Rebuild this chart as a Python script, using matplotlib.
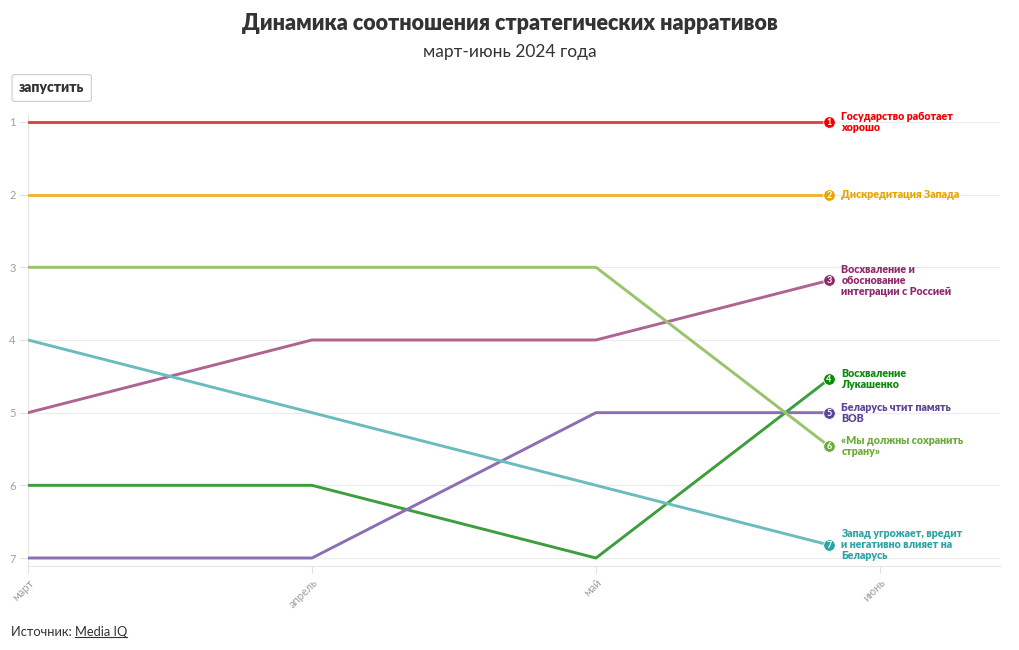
import numpy as np
import matplotlib
matplotlib.use('Agg')
import matplotlib.pyplot as plt
from matplotlib.lines import Line2D

plt.rcParams['font.family'] = ['Lato', 'DejaVu Sans']

months = ['март', 'апрель', 'май', 'июнь']

names = ['Государство работает\nхорошо',
         'Дискредитация Запада',
         'Восхваление и\nобоснование\nинтеграции с Россией',
         'Восхваление\nЛукашенко',
         'Беларусь чтит память\nВОВ',
         '«Мы должны сохранить\nстрану»',
         'Запад угрожает, вредит\nи негативно влияет на\nБеларусь']

# ranks per month (март, апрель, май, июнь)
rank_state = [1, 1, 1, 1]
rank_west_discredit = [2, 2, 2, 2]
rank_russia = [5, 4, 4, 3]
rank_lukashenko = [6, 6, 7, 4]
rank_wwii = [7, 7, 5, 5]
rank_save_country = [3, 3, 3, 6]
rank_west_threat = [4, 5, 6, 7]

series = [rank_state, rank_west_discredit, rank_russia, rank_lukashenko,
          rank_wwii, rank_save_country, rank_west_threat]

line_colors = ['#e8403f', '#f0b434', '#b06392', '#3d9e3d', '#8a6fb5', '#98c46c', '#6bbcbd']
label_colors = ['#f00000', '#eaa400', '#8f2a6e', '#0a8a0a', '#5b4598', '#6dab3c', '#2ea3a3']

# animation frame: how far the last segment has been drawn
progress = 0.82

fig = plt.figure(figsize=(10.2, 6.5), dpi=100)
ax = fig.add_axes([28/1020, 1 - 566/650, 972/1020, (566 - 114.7)/650])

x = np.arange(len(months))
for vals, lc, tc, name in zip(series, line_colors, label_colors, names):
    v = np.array(vals, dtype=float)
    xe = x[-2] + progress
    ye = v[-2] + progress * (v[-1] - v[-2])
    xs = list(x[:-1]) + [xe]
    ys = list(v[:-1]) + [ye]
    ax.plot(xs, ys, color=lc, lw=2.1, solid_capstyle='round', zorder=3)
    ax.scatter([xe], [ye], s=70, color=tc, edgecolor='white', linewidth=0.6, zorder=4)
    ax.text(xe, ye + 0.005, str(int(vals[-1])), color='white', fontsize=6.5,
            fontweight='bold', ha='center', va='center', zorder=5)
    ax.annotate(name, (xe, ye), xytext=(9, 0), textcoords='offset points',
                color=tc, fontsize=7.7, fontweight='heavy', ha='left', va='center',
                linespacing=1.0, zorder=5)

ax.set_xlim(0, 972/284)
ax.set_ylim(7.11, 0.9)
ax.set_yticks(range(1, 8))
ax.set_xticks(x)
ax.set_xticklabels(months, rotation=45, ha='right', rotation_mode='anchor')
ax.tick_params(axis='x', colors='#e0e0e0', labelcolor='#a0a0a0', labelsize=8, length=5, pad=3)
ax.tick_params(axis='y', colors='#e0e0e0', labelcolor='#a0a0a0', labelsize=8, length=6, pad=3)
ax.grid(axis='y', color='#ececec', lw=0.8)
ax.grid(axis='x', visible=False)
for s in ['top', 'right']:
    ax.spines[s].set_visible(False)
for s in ['left', 'bottom']:
    ax.spines[s].set_color('#e6e6e6')
    ax.spines[s].set_linewidth(0.8)

fig.text(0.5, 1 - 24/650, 'Динамика соотношения стратегических нарративов',
         ha='center', va='center', fontsize=15.5, fontweight='heavy', color='#333333')
fig.text(0.5, 1 - 52/650, 'март-июнь 2024 года', ha='center', va='center',
         fontsize=12.5, color='#333333')

fig.text(19/1020, 1 - 88/650, 'запустить', ha='left', va='center', fontsize=10,
         fontweight='heavy', color='#333333',
         bbox=dict(boxstyle='round,pad=0.5,rounding_size=0.2', fc='white', ec='#cccccc', lw=0.8))

src = fig.text(11/1020, 1 - 632/650, 'Источник: ', ha='left', va='center',
               fontsize=9.3, color='#333333')
fig.canvas.draw()
r = fig.canvas.get_renderer()
bb = src.get_window_extent(r)
link = fig.text(bb.x1 / 1020, 1 - 632/650, 'Media IQ', ha='left', va='center',
                fontsize=9.3, color='#333333')
fig.canvas.draw()
lb = link.get_window_extent(r)
fig.add_artist(Line2D([lb.x0 / 1020, lb.x1 / 1020], [(lb.y0 + 1) / 650] * 2,
                      color='#333333', lw=0.8))

fig.savefig('out.png', dpi=100)
